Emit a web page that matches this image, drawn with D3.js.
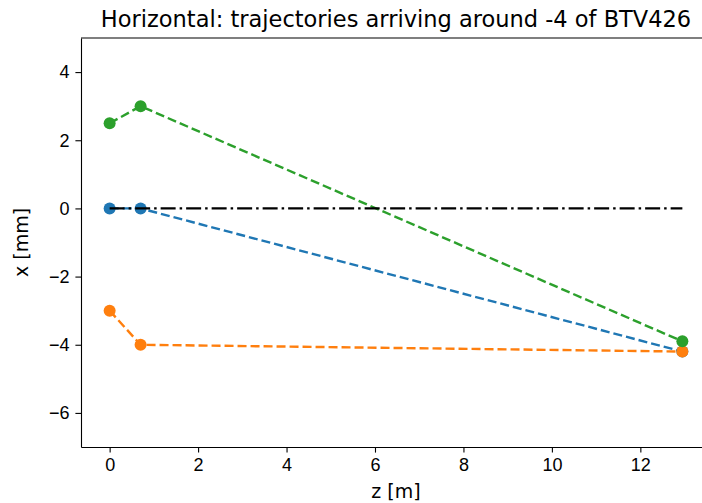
<!DOCTYPE html>
<html>
<head>
<meta charset="utf-8">
<script src="https://cdn.jsdelivr.net/npm/d3@7"></script>
<style>
  body { margin: 0; background: #fff; }
  svg { display: block; font-family: "DejaVu Sans", sans-serif; }
  .tick text { font-size: 18px; fill: #000; }
  .tick line { stroke: #000; stroke-width: 1.1; }
  .domain { stroke: #000; stroke-width: 1.1; }
</style>
</head>
<body>
<script>
// positions along the beamline [m]
var zPos = [0, 0.7, 12.95];

// horizontal offsets [mm] of each trajectory
var blueX = [0, 0, -4.2];
var orangeX = [-3, -4, -4.2];
var greenX = [2.5, 3, -3.9];
var refX = [0, 0];
var refZ = [0, 12.95];

var xTicks = [0, 2, 4, 6, 8, 10, 12];
var yTicks = [-6, -4, -2, 0, 2, 4];

var series = [
  {name: "blue", colour: "#1f77b4", z: zPos, x: blueX},
  {name: "orange", colour: "#ff7f0e", z: zPos, x: orangeX},
  {name: "green", colour: "#2ca02c", z: zPos, x: greenX}
];

var W = 702, H = 503;
var margin = {top: 38, left: 81, right: -9, bottom: 56};
var width = W - margin.left - margin.right,
    height = H - margin.top - margin.bottom;

var svg = d3.select("body").append("svg")
    .attr("width", W)
    .attr("height", H);

var g = svg.append("g")
    .attr("transform", "translate(" + margin.left + "," + margin.top + ")");

var pad = 12.95 * 0.05;
var x = d3.scaleLinear().domain([-pad, 12.95 + pad]).range([0, width]);
var y = d3.scaleLinear().domain([-7, 5]).range([height, 0]);

var line = d3.line()
    .x(function(d) { return x(d[0]); })
    .y(function(d) { return y(d[1]); });

series.forEach(function(s) {
  var pts = d3.zip(s.z, s.x);
  g.append("path")
      .datum(pts)
      .attr("d", line)
      .attr("fill", "none")
      .attr("stroke", s.colour)
      .attr("stroke-width", 2.4)
      .attr("stroke-dasharray", "9,4");
  g.selectAll(".pt-" + s.name)
      .data(pts)
    .enter().append("circle")
      .attr("class", "pt-" + s.name)
      .attr("cx", function(d) { return x(d[0]); })
      .attr("cy", function(d) { return y(d[1]); })
      .attr("r", 6)
      .attr("fill", s.colour);
});

// reference line on top
g.append("path")
    .datum(d3.zip(refZ, refX))
    .attr("d", line)
    .attr("fill", "none")
    .attr("stroke", "#000")
    .attr("stroke-width", 2.4)
    .attr("stroke-dasharray", "15,4,2.5,4");

var fmt = function(d) { return d < 0 ? "\u2212" + Math.abs(d) : d; };

g.append("g")
    .attr("transform", "translate(0," + height + ")")
    .call(d3.axisBottom(x).tickValues(xTicks).tickSize(5.6).tickPadding(6).tickSizeOuter(0).tickFormat(fmt));

g.append("g")
    .call(d3.axisLeft(y).tickValues(yTicks).tickSize(5.6).tickPadding(6).tickSizeOuter(0).tickFormat(fmt));

// top and right spines
g.append("line")
    .attr("x1", 0).attr("x2", width)
    .attr("y1", 0).attr("y2", 0)
    .attr("stroke", "#000").attr("stroke-width", 1.1);
g.append("line")
    .attr("x1", width).attr("x2", width)
    .attr("y1", 0).attr("y2", height)
    .attr("stroke", "#000").attr("stroke-width", 1.1);

svg.append("text")
    .attr("x", margin.left + width / 2)
    .attr("y", 27)
    .attr("text-anchor", "middle")
    .attr("font-size", 22.5)
    .text("Horizontal: trajectories arriving around -4 of BTV426");

svg.append("text")
    .attr("x", margin.left + width / 2)
    .attr("y", 498)
    .attr("text-anchor", "middle")
    .attr("font-size", 19)
    .text("z [m]");

svg.append("text")
    .attr("transform", "translate(28," + (margin.top + height / 2) + ") rotate(-90)")
    .attr("text-anchor", "middle")
    .attr("font-size", 19)
    .text("x [mm]");
</script>
</body>
</html>
